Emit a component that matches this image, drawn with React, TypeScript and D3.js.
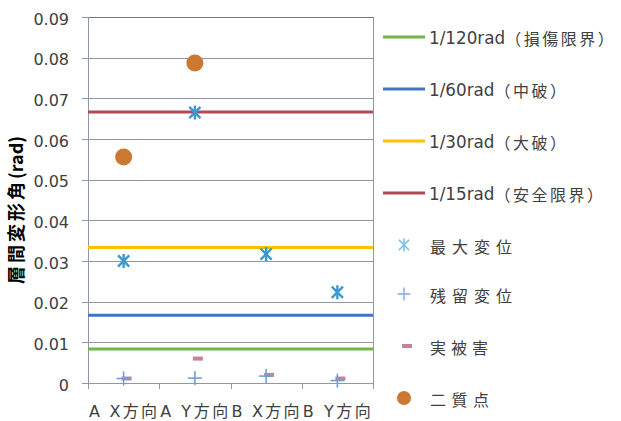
import React from "react";
import * as d3 from "d3";

// Drift-angle evaluation per building / direction
const categories = ["A X方向", "A Y方向", "B X方向", "B Y方向"];
const maxDisp = [0.03, 0.0665, 0.0317, 0.0223]; // 最大変位
const residualDisp = [0.0011, 0.0012, 0.0017, 0.0006]; // 残留変位
const actualDamage = [0.0011, 0.006, 0.002, 0.0011]; // 実被害
const twoMass: (number | null)[] = [0.0556, 0.0787, null, null]; // 二質点

// Limit drift angles
const limitValues = [1 / 120, 1 / 60, 1 / 30, 1 / 15];
const limitLabels = ["1/120rad（損傷限界）", "1/60rad（中破）", "1/30rad（大破）", "1/15rad（安全限界）"];
const limitColors = ["#74B54A", "#4472C4", "#FFC000", "#B04B55"];

const yTicks = [0, 0.01, 0.02, 0.03, 0.04, 0.05, 0.06, 0.07, 0.08, 0.09];

const markerLabels = ["最大変位", "残留変位", "実被害", "二質点"];
const markerLabelWidths = [82, 82, 58, 59];

const W = 621;
const H = 421;
const plot = { left: 88, right: 373, top: 17, bottom: 383 };

const FONT_NUM = "'DejaVu Sans', 'Noto Sans CJK JP', sans-serif";
const FONT_CJK = "'Noto Sans CJK JP', sans-serif";

const C_STAR = "#3A98D2";
const C_PLUS = "#6E9ED8";
const C_DASH = "#C6829B";
const C_DOT = "#CB7832";
const C_GRID = "#8E98A6";
const C_TEXT = "#404040";

function Star({ x, y, s = 7, color = C_STAR, w = 2.4 }: { x: number; y: number; s?: number; color?: string; w?: number }) {
  const d = s * 0.8;
  return (
    <g stroke={color} strokeWidth={w} strokeLinecap="butt">
      <line x1={x} y1={y - s} x2={x} y2={y + s} />
      <line x1={x - d} y1={y - d} x2={x + d} y2={y + d} />
      <line x1={x - d} y1={y + d} x2={x + d} y2={y - d} />
    </g>
  );
}

function Plus({ x, y, s = 7, color = C_PLUS }: { x: number; y: number; s?: number; color?: string }) {
  return (
    <g stroke={color} strokeWidth={1.6}>
      <line x1={x} y1={y - s} x2={x} y2={y + s} />
      <line x1={x - s} y1={y} x2={x + s} y2={y} />
    </g>
  );
}

function Dash({ x, y, color = C_DASH }: { x: number; y: number; color?: string }) {
  return <rect x={x - 2} y={y - 2} width={10} height={4} fill={color} />;
}

export default function App() {
  const x = d3.scaleBand<string>().domain(categories).range([plot.left, plot.right]).padding(0);
  const y = d3.scaleLinear().domain([0, 0.09]).range([plot.bottom, plot.top]);
  const cx = (c: string) => (x(c) ?? 0) + x.bandwidth() / 2;
  const crisp = (v: number) => Math.round(v) + 0.5;

  const legendLineY = [37, 89, 141, 193];
  const legendMarkY = [245, 294, 346, 398];

  return (
    <div style={{ position: "fixed", left: 0, top: 0, width: W, height: H, background: "#fff" }}>
      <svg width={W} height={H} viewBox={`0 0 ${W} ${H}`}>
        <rect width={W} height={H} fill="#fff" />

        {/* gridlines */}
        {yTicks.map((t) => (
          <line key={`g${t}`} x1={plot.left} x2={plot.right} y1={crisp(y(t))} y2={crisp(y(t))} stroke={C_GRID} strokeWidth={1} />
        ))}
        {/* plot frame */}
        <line x1={crisp(plot.right)} x2={crisp(plot.right)} y1={plot.top} y2={plot.bottom} stroke={C_GRID} strokeWidth={1} />
        <line x1={plot.left} x2={plot.right} y1={crisp(y(0.09))} y2={crisp(y(0.09))} stroke="#6F7884" strokeWidth={1} />

        {/* y axis */}
        <line x1={crisp(plot.left)} x2={crisp(plot.left)} y1={plot.top} y2={plot.bottom + 5} stroke={C_GRID} strokeWidth={1} />
        {yTicks.map((t) => (
          <g key={`t${t}`}>
            <line x1={plot.left - 6} x2={plot.left} y1={crisp(y(t))} y2={crisp(y(t))} stroke={C_GRID} strokeWidth={1} />
            <text x={69} y={y(t) + 2} textAnchor="end" dominantBaseline="central" fontFamily={FONT_NUM} fontSize={16} fill={C_TEXT}>
              {t === 0 ? "0" : d3.format(".2f")(t)}
            </text>
          </g>
        ))}

        {/* x axis */}
        <line x1={plot.left} x2={plot.right} y1={crisp(plot.bottom)} y2={crisp(plot.bottom)} stroke={C_GRID} strokeWidth={1} />
        {[...categories.map((c) => x(c) ?? 0), plot.right].map((v, i) => (
          <line key={`xt${i}`} x1={crisp(v)} x2={crisp(v)} y1={plot.bottom} y2={plot.bottom + 6} stroke={C_GRID} strokeWidth={1} />
        ))}
        {categories.map((c) => (
          <text
            key={`xl${c}`}
            x={(x(c) ?? 0) + 1}
            y={411}
            dominantBaseline="central"
            fontFamily={FONT_NUM}
            fontSize={16}
            fill={C_TEXT}
            textLength={68}
            lengthAdjust="spacing"
          >
            {c}
          </text>
        ))}

        {/* y axis title */}
        <text
          transform="translate(15,210) rotate(-90)"
          textAnchor="middle"
          dominantBaseline="central"
          fontFamily={FONT_CJK}
          fontWeight="bold"
          fontSize={18}
          fill="#000"
        >
          <tspan letterSpacing={3}>層間変形角</tspan>
          <tspan>(rad)</tspan>
        </text>

        {/* limit lines */}
        {limitValues.map((v, i) => (
          <line key={`lim${i}`} x1={plot.left} x2={plot.right} y1={y(v)} y2={y(v)} stroke={limitColors[i]} strokeWidth={3} />
        ))}

        {/* 二質点 */}
        {categories.map((c, i) =>
          twoMass[i] == null ? null : <circle key={`dot${c}`} cx={cx(c)} cy={y(twoMass[i] as number)} r={8.5} fill={C_DOT} />
        )}
        {/* 実被害 */}
        {categories.map((c, i) => (
          <Dash key={`dash${c}`} x={cx(c)} y={y(actualDamage[i])} />
        ))}
        {/* 残留変位 */}
        {categories.map((c, i) => (
          <Plus key={`plus${c}`} x={cx(c)} y={y(residualDisp[i])} />
        ))}
        {/* 最大変位 */}
        {categories.map((c, i) => (
          <Star key={`star${c}`} x={cx(c)} y={y(maxDisp[i])} />
        ))}

        {/* legend: limit lines */}
        {limitLabels.map((l, i) => {
          const k = l.indexOf("（");
          return (
            <g key={`leg${i}`}>
              <line x1={383} x2={425} y1={legendLineY[i]} y2={legendLineY[i]} stroke={limitColors[i]} strokeWidth={3} />
              <text x={429} y={legendLineY[i] + 1} dominantBaseline="central" fill={C_TEXT}>
                <tspan fontFamily={FONT_NUM} fontSize={16.8}>{l.slice(0, k)}</tspan>
                <tspan fontFamily={FONT_CJK} fontSize={16} letterSpacing={2.5}>{l.slice(k)}</tspan>
              </text>
            </g>
          );
        })}

        {/* legend: markers */}
        <Star x={404} y={legendMarkY[0]} s={6.5} color="#7CC0E8" w={1.6} />
        <Plus x={404} y={legendMarkY[1]} s={6.5} color="#8AB2E2" />
        <Dash x={404} y={legendMarkY[2]} />
        <circle cx={404} cy={legendMarkY[3]} r={7} fill={C_DOT} />
        {markerLabels.map((l, i) => (
          <text
            key={`ml${i}`}
            x={430}
            y={legendMarkY[i] + 1}
            dominantBaseline="central"
            fontFamily={FONT_CJK}
            fontSize={16}
            fill={C_TEXT}
            textLength={markerLabelWidths[i]}
            lengthAdjust="spacing"
          >
            {l}
          </text>
        ))}
      </svg>
    </div>
  );
}
